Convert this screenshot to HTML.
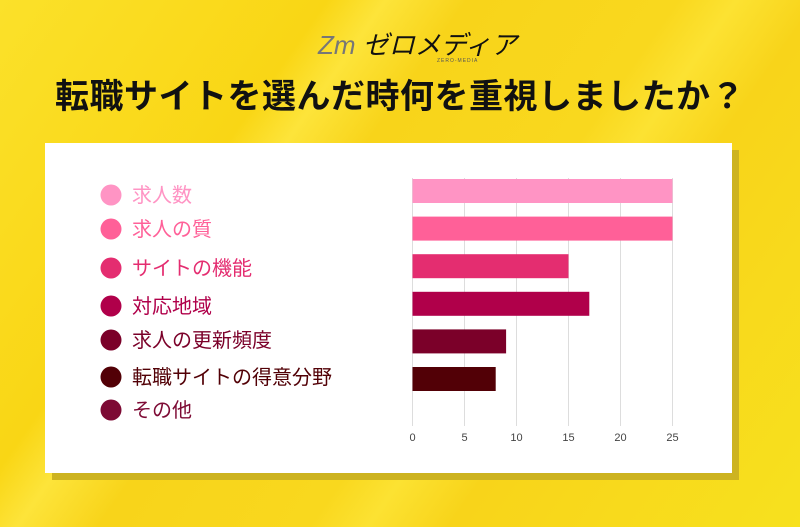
<!DOCTYPE html>
<html style="width:800px;height:527px;overflow:hidden"><head><meta charset="utf-8">
<style>
html,body{margin:0;padding:0;}
body{width:800px;height:527px;overflow:hidden;font-family:"Liberation Sans","Noto Sans CJK JP",sans-serif;position:relative;}
#bg{position:absolute;left:0;top:0;width:800px;height:527px;background:linear-gradient(125deg,#fbe12a 0%,#f9d615 28%,#fde43a 33%,#f8d41a 40%,#f9d81e 58%,#fce232 63%,#f8d41a 70%,#f7e11e 100%);}
#card-shadow{position:absolute;left:52px;top:150px;width:687px;height:330px;background:#cdb320;}
#card{position:absolute;left:45px;top:143px;width:687px;height:330px;background:#fff;}
#title{position:absolute;left:0;top:75px;width:800px;text-align:center;font-size:34px;line-height:44px;font-weight:bold;color:#111;letter-spacing:0.5px;}
#logo{position:absolute;left:318px;top:28px;font-size:26px;line-height:34px;color:#111;font-style:italic;}
#logo-sub{position:absolute;left:437px;top:58px;font-size:5px;line-height:6px;color:#555;letter-spacing:1px;}
</style></head><body>
<div id="bg"></div>
<div id="logo"><span style="color:#777">Zm</span> ゼロメディア</div>
<div id="logo-sub">ZERO-MEDIA</div>
<div id="title">転職サイトを選んだ時何を重視しましたか？</div>
<div id="card-shadow"></div>
<div id="card"></div>
<svg id="chart" width="800" height="527" style="position:absolute;left:0;top:0;display:block"></svg>
<script>
const categories=["求人数","求人の質","サイトの機能","対応地域","求人の更新頻度","転職サイトの得意分野","その他"];
const values=[25,25,15,17,9,8,0];
const colors=["#ff94c4","#ff6098","#e42d70","#b0004a","#7b0029","#520006","#7d0a34"];
const ticks=[0,5,10,15,20,25];
const legendY=[195,229,268,306,340,377,410];
const NS="http://www.w3.org/2000/svg";
const svg=document.getElementById('chart');
const x0=412.5,x1=672.5,top0=178,step=37.6,bh=24;
function xs(v){return x0+(x1-x0)*v/25;}
function ys(i){return top0+1+i*step;}
function mk(t,a){const e=document.createElementNS(NS,t);for(const k in a)e.setAttribute(k,a[k]);svg.appendChild(e);return e;}
ticks.forEach(t=>{
 const l=mk('line',{x1:xs(t),x2:xs(t),y1:top0,y2:426,stroke:'#ddd','stroke-width':1});
 
 
 const tx=mk('text',{x:xs(t),y:441,'font-size':11,'text-anchor':'middle',fill:'#444'});
 tx.textContent=t;
 
 
});
values.forEach((v,i)=>{
 if(v<=0)return;
 const r=mk('rect',{x:xs(0),y:ys(i),width:xs(v)-xs(0),height:bh,fill:colors[i]});
 
 
});
categories.forEach((c,i)=>{
 const ci=mk('circle',{cx:111,cy:legendY[i],r:10.5,fill:colors[i]});
 
 
 const t=mk('text',{x:132,y:legendY[i]+7,'font-size':20,fill:colors[i]});
 t.textContent=c;
 
 
});
</script>
</body></html>
